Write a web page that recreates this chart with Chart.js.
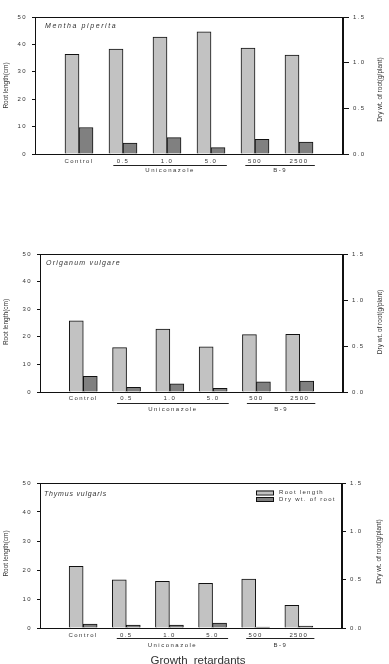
<!DOCTYPE html>
<html><head><meta charset="utf-8">
<script src="https://cdn.jsdelivr.net/npm/chart.js@4.4.0/dist/chart.umd.min.js"></script>
<style>
html,body{margin:0;padding:0;background:#fff;}
body{width:389px;height:664px;position:relative;overflow:hidden;}
.p{position:absolute;left:0;width:389px;}
canvas{display:block;}
</style></head><body>
<div class="p" style="top:0px;height:200px"><canvas id="c1" width="389" height="200"></canvas></div>
<div class="p" style="top:240px;height:200px"><canvas id="c2" width="389" height="200"></canvas></div>
<div class="p" style="top:470px;height:194px"><canvas id="c3" width="389" height="194"></canvas></div>
<script>
// ---- data ----
const categories = ['Control', '0.5', '1.0', '5.0', '500', '2500'];
const menthaRootLength = [36.4, 38.3, 42.7, 44.6, 38.7, 36.1];
const menthaDryWeight = [0.29, 0.12, 0.18, 0.07, 0.16, 0.13];
const origanumRootLength = [25.8, 16.1, 22.8, 16.4, 20.8, 20.9];
const origanumDryWeight = [0.17, 0.05, 0.09, 0.04, 0.11, 0.12];
const thymusRootLength = [21.3, 16.6, 16.1, 15.4, 16.9, 7.8];
const thymusDryWeight = [0.04, 0.03, 0.03, 0.05, 0.01, 0.02];
const leftTicks = [0, 10, 20, 30, 40, 50];
const rightTicks = [0.0, 0.5, 1.0, 1.5];
const groupNames = ['Uniconazole', 'B-9'];
const groupFrom = ['0.5', '500'];
const groupTo = ['5.0', '2500'];
const seriesNames = ['Root length', 'Dry wt. of root'];
const leftTitle = 'Root length(cm)';
const rightTitle = 'Dry wt. of root(g/plant)';
const xTitle = 'Growth retardants';

const FONT = "'Liberation Sans', Arial, sans-serif";
const LIGHT = '#c2c2c2', DARK = '#808080', TXT = '#333';
const labels = [''].concat(categories, ['']);

const deco = {
  id: 'deco',
  beforeDraw(chart) { chart.ctx.letterSpacing = '1.4px'; },
  afterDraw(chart, args, o) {
    const ctx = chart.ctx, a = chart.chartArea, xs = chart.scales.x;
    ctx.save();
    ctx.letterSpacing = '0px';
    // frame
    ctx.strokeStyle = '#111'; ctx.lineWidth = 1;
    ctx.strokeRect(a.left + 0.5, a.top + 0.5, a.right - a.left - 1, a.bottom - a.top);
    // axis titles
    ctx.fillStyle = TXT; ctx.font = '6.5px ' + FONT;
    ctx.textAlign = 'center'; ctx.textBaseline = 'middle';
    ctx.save(); ctx.translate(6, (a.top + a.bottom) / 2 + o.ltDy); ctx.rotate(-Math.PI / 2);
    ctx.fillText(leftTitle, 0, 0); ctx.restore();
    ctx.save(); ctx.translate(o.rtX, (a.top + a.bottom) / 2 + o.rtDy); ctx.rotate(-Math.PI / 2);
    ctx.fillText(rightTitle, 0, 0); ctx.restore();
    // species title
    ctx.font = 'italic 7px ' + FONT; ctx.textAlign = 'left';
    ctx.letterSpacing = o.titleSpacing + 'px';
    ctx.fillText(o.title, o.titleX, o.titleY);
    // group lines & labels
    ctx.letterSpacing = '1.5px';
    ctx.font = '6px ' + FONT; ctx.textAlign = 'center';
    for (let i = 0; i < groupNames.length; i++) {
      const x0 = xs.getPixelForValue(labels.indexOf(groupFrom[i]) - 0.22);
      const x1 = xs.getPixelForValue(labels.indexOf(groupTo[i]) + 0.36);
      ctx.beginPath(); ctx.moveTo(x0, a.bottom + o.lineDy + 0.5); ctx.lineTo(x1, a.bottom + o.lineDy + 0.5);
      ctx.strokeStyle = '#222'; ctx.stroke();
      ctx.fillText(groupNames[i], (x0 + x1) / 2, a.bottom + o.textDy);
    }
    // legend
    if (o.legend) {
      const cols = [LIGHT, DARK];
      ctx.textAlign = 'left'; ctx.font = '6px ' + FONT; ctx.letterSpacing = '1.3px';
      for (let i = 0; i < 2; i++) {
        const y = o.legY + i * 6.5;
        ctx.fillStyle = cols[i]; ctx.fillRect(o.legX, y - 2, 18, 4);
        ctx.strokeStyle = '#111'; ctx.strokeRect(o.legX + 0.5, y - 2 + 0.5, 17, 4);
        ctx.fillStyle = TXT; ctx.fillText(seriesNames[i], o.legX + 23, y);
      }
    }
    if (o.xTitle) {
      ctx.letterSpacing = '0px'; ctx.wordSpacing = '3px';
      ctx.font = '11.5px ' + FONT; ctx.textAlign = 'center'; ctx.textBaseline = 'top';
      ctx.fillStyle = TXT; ctx.fillText(xTitle, o.xtX, o.xtY);
    }
    ctx.restore();
  }
};

function makeChart(id, root, dry, geom, decoOpts) {
  const H = document.getElementById(id).height;
  return new Chart(document.getElementById(id), {
    type: 'bar',
    data: {
      labels: labels,
      datasets: [
        { label: seriesNames[0], data: [null].concat(root, [null]), yAxisID: 'y',
          backgroundColor: LIGHT, borderColor: '#111', borderWidth: 1, barThickness: 14 },
        { label: seriesNames[1], data: [null].concat(dry, [null]), yAxisID: 'y1',
          backgroundColor: DARK, borderColor: '#111', borderWidth: 1, barThickness: 14 }
      ]
    },
    options: {
      responsive: false, animation: false,
      layout: { padding: { top: geom.t, left: 0, right: 0, bottom: 0 } },
      plugins: { legend: { display: false }, tooltip: { enabled: false }, title: { display: false },
        deco: decoOpts },
      scales: {
        x: { type: 'category', offset: false,
          grid: { display: false, drawTicks: false }, border: { display: true, color: '#111' },
          ticks: { autoSkip: false, maxRotation: 0, padding: geom.xpad, color: TXT,
            font: { family: FONT, size: 6 } },
          afterFit(s) { s.height = H - geom.b; } },
        y: { position: 'left', min: 0, max: 50,
          afterBuildTicks(s) { s.ticks = leftTicks.map(v => ({ value: v })); },
          grid: { drawOnChartArea: false, tickLength: 3, color: '#111' },
          border: { color: '#111' },
          ticks: { padding: 5, color: TXT, font: { family: FONT, size: 6 } },
          afterFit(s) { s.width = geom.l; } },
        y1: { position: 'right', min: 0, max: 1.5,
          afterBuildTicks(s) { s.ticks = rightTicks.map(v => ({ value: v })); },
          grid: { drawOnChartArea: false, tickLength: geom.rtl, color: '#111' },
          border: { color: '#111' },
          ticks: { padding: 4, color: TXT, font: { family: FONT, size: 6 },
            callback: v => Number(v).toFixed(1) },
          afterFit(s) { s.width = 389 - geom.r; } }
      }
    },
    plugins: [deco]
  });
}

makeChart('c1', menthaRootLength, menthaDryWeight,
  { l: 35, r: 343, t: 17, b: 154, xpad: 4, rtl: 6 },
  { title: 'Mentha piperita', titleX: 45, titleY: 26, titleSpacing: 1.6,
    lineDy: 11, textDy: 16.5, ltDy: 0, rtDy: 4, rtX: 380 });
makeChart('c2', origanumRootLength, origanumDryWeight,
  { l: 40, r: 343, t: 14, b: 152, xpad: 3, rtl: 5 },
  { title: 'Origanum vulgare', titleX: 46, titleY: 23, titleSpacing: 1.2,
    lineDy: 11, textDy: 17, ltDy: -1, rtDy: -1, rtX: 380 });
makeChart('c3', thymusRootLength, thymusDryWeight,
  { l: 40, r: 342, t: 13, b: 158, xpad: 4, rtl: 4 },
  { title: 'Thymus vulgaris', titleX: 44, titleY: 24, titleSpacing: 0.8,
    lineDy: 10, textDy: 17, ltDy: -2, rtDy: -4, rtX: 379,
    legend: true, legX: 256, legY: 22.5, xTitle: true, xtX: 198, xtY: 185 });
</script>
</body></html>
